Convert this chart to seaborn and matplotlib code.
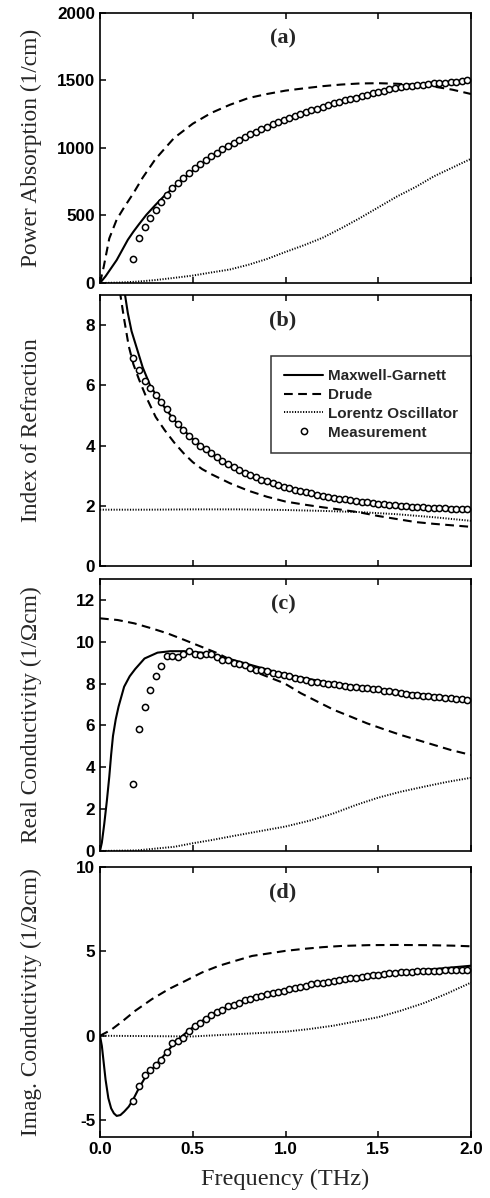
import matplotlib
matplotlib.use("Agg")
import matplotlib.pyplot as plt
from matplotlib.lines import Line2D
import seaborn as sns

sns.set_style("ticks")
plt.rcParams['font.family'] = ['Liberation Sans', 'DejaVu Sans']

# ---------------- data ----------------
meas_freq = [0.18, 0.21, 0.24, 0.27, 0.30, 0.33, 0.36, 0.39, 0.42, 0.45,
             0.48, 0.51, 0.54, 0.57, 0.60, 0.63, 0.66, 0.69, 0.72, 0.75,
             0.78, 0.81, 0.84, 0.87, 0.90, 0.93, 0.96, 0.99, 1.02, 1.05,
             1.08, 1.11, 1.14, 1.17, 1.20, 1.23, 1.26, 1.29, 1.32, 1.35,
             1.38, 1.41, 1.44, 1.47, 1.50, 1.53, 1.56, 1.59, 1.62, 1.65,
             1.68, 1.71, 1.74, 1.77, 1.80, 1.83, 1.86, 1.89, 1.92, 1.95,
             1.98]

meas_absorption = [176, 330, 415, 480, 540, 598, 655, 700, 740, 775,
                   815, 850, 880, 910, 940, 965, 990, 1015, 1040, 1060,
                   1080, 1100, 1120, 1140, 1158, 1175, 1192, 1208, 1222, 1238,
                   1255, 1268, 1280, 1292, 1305, 1318, 1330, 1342, 1352, 1362,
                   1372, 1385, 1395, 1405, 1415, 1425, 1438, 1448, 1452, 1458,
                   1462, 1465, 1468, 1472, 1478, 1482, 1485, 1488, 1492, 1498,
                   1505]
meas_index = [6.9, 6.5, 6.15, 5.9, 5.68, 5.45, 5.2, 4.93, 4.72, 4.52,
              4.32, 4.15, 4.0, 3.87, 3.74, 3.61, 3.49, 3.38, 3.28, 3.19,
              3.10, 3.02, 2.94, 2.87, 2.81, 2.75, 2.70, 2.64, 2.59, 2.54,
              2.49, 2.45, 2.41, 2.37, 2.33, 2.30, 2.27, 2.24, 2.21, 2.19,
              2.16, 2.13, 2.11, 2.09, 2.07, 2.05, 2.03, 2.01, 1.99, 1.98,
              1.97, 1.96, 1.95, 1.94, 1.93, 1.92, 1.91, 1.90, 1.90, 1.89,
              1.88]
meas_real = [3.2, 5.85, 6.9, 7.7, 8.35, 8.85, 9.3, 9.3, 9.25, 9.4,
             9.55, 9.4, 9.35, 9.4, 9.42, 9.27, 9.13, 9.15, 9.0, 8.92,
             8.9, 8.75, 8.67, 8.63, 8.58, 8.52, 8.45, 8.40, 8.35, 8.28,
             8.22, 8.16, 8.10, 8.06, 8.03, 8.00, 7.97, 7.93, 7.90, 7.86,
             7.83, 7.80, 7.78, 7.75, 7.72, 7.67, 7.63, 7.58, 7.54, 7.50,
             7.47, 7.44, 7.42, 7.40, 7.38, 7.35, 7.33, 7.30, 7.27, 7.25,
             7.22]
meas_imag = [-3.85, -3.0, -2.3, -2.0, -1.75, -1.45, -0.95, -0.45, -0.33, -0.15,
             0.30, 0.58, 0.75, 1.0, 1.25, 1.42, 1.52, 1.78, 1.85, 1.95,
             2.1, 2.2, 2.3, 2.35, 2.48, 2.56, 2.62, 2.68, 2.77, 2.84,
             2.90, 2.97, 3.04, 3.10, 3.15, 3.20, 3.25, 3.30, 3.36, 3.41,
             3.45, 3.50, 3.55, 3.58, 3.62, 3.65, 3.69, 3.72, 3.75, 3.77,
             3.79, 3.81, 3.83, 3.84, 3.85, 3.86, 3.88, 3.89, 3.90, 3.90,
             3.91]

# (a) power absorption models
mg_a_f = [0, 0.03, 0.06, 0.09, 0.12, 0.15, 0.18, 0.21, 0.25, 0.30, 0.35, 0.40,
          0.50, 0.60, 0.70, 0.80, 0.90, 1.00, 1.10, 1.20, 1.30, 1.40, 1.50,
          1.60, 1.70, 1.80, 1.90, 2.00]
mg_a_v = [0, 50, 110, 170, 245, 320, 380, 435, 505, 580, 650, 712,
          830, 935, 1025, 1095, 1155, 1210, 1260, 1305, 1345, 1385, 1415,
          1445, 1465, 1480, 1492, 1505]
dr_a_f = [0, 0.02, 0.05, 0.09, 0.13, 0.18, 0.23, 0.30, 0.40, 0.50, 0.60, 0.70,
          0.80, 0.90, 1.00, 1.10, 1.20, 1.30, 1.40, 1.50, 1.60, 1.70, 1.80,
          1.90, 2.00]
dr_a_v = [0, 120, 330, 470, 560, 665, 780, 920, 1075, 1180, 1260, 1320,
          1370, 1400, 1425, 1442, 1458, 1470, 1478, 1480, 1476, 1468, 1455,
          1432, 1400]
lo_a_f = [0, 0.1, 0.2, 0.3, 0.4, 0.5, 0.6, 0.7, 0.8, 0.9, 1.0, 1.1, 1.2, 1.3,
          1.4, 1.5, 1.6, 1.7, 1.8, 1.9, 2.0]
lo_a_v = [0, 3, 10, 22, 38, 55, 78, 100, 135, 178, 230, 280, 335, 405,
          480, 560, 640, 710, 790, 855, 920]

# (b) index of refraction models
mg_b_f = [0.125, 0.135, 0.15, 0.17, 0.20, 0.23, 0.27, 0.30, 0.35, 0.40, 0.45,
          0.50, 0.60, 0.70, 0.80, 0.90, 1.00, 1.20, 1.40, 1.60, 1.80, 2.00]
mg_b_v = [9.5, 9.0, 8.4, 7.8, 7.2, 6.6, 6.0, 5.7, 5.25, 4.85, 4.52,
          4.22, 3.74, 3.35, 3.06, 2.81, 2.62, 2.33, 2.13, 2.0, 1.93, 1.88]
dr_b_f = [0.10, 0.11, 0.13, 0.155, 0.18, 0.21, 0.25, 0.30, 0.35, 0.40, 0.45,
          0.50, 0.55, 0.60, 0.70, 0.80, 0.90, 1.00, 1.10, 1.20, 1.30, 1.40,
          1.50, 1.60, 1.70, 1.80, 1.90, 2.00]
dr_b_v = [9.6, 9.0, 8.2, 7.3, 6.7, 6.2, 5.6, 4.95, 4.5, 4.1, 3.75,
          3.45, 3.22, 3.05, 2.75, 2.5, 2.3, 2.14, 2.04, 1.95, 1.87, 1.78,
          1.66, 1.56, 1.46, 1.40, 1.35, 1.30]
lo_b_f = [0, 0.25, 0.5, 0.75, 1.0, 1.2, 1.4, 1.6, 1.8, 2.0]
lo_b_v = [1.87, 1.87, 1.88, 1.88, 1.86, 1.83, 1.79, 1.72, 1.62, 1.50]

# (c) real conductivity models
mg_c_f = [0, 0.01, 0.023, 0.037, 0.05, 0.06, 0.07, 0.085, 0.10, 0.13, 0.16,
          0.19, 0.24, 0.31, 0.38, 0.45, 0.55, 0.65, 0.75, 0.85, 0.95, 1.05,
          1.2, 1.4, 1.6, 1.8, 2.0]
mg_c_v = [0, 0.4, 1.3, 2.4, 3.55, 4.6, 5.5, 6.3, 6.9, 7.85, 8.35,
          8.7, 9.2, 9.48, 9.55, 9.55, 9.48, 9.3, 9.05, 8.8, 8.55, 8.35,
          8.1, 7.85, 7.62, 7.42, 7.25]
dr_c_f = [0, 0.095, 0.185, 0.275, 0.364, 0.454, 0.544, 0.634, 0.723, 0.813,
          0.903, 0.993, 1.083, 1.172, 1.262, 1.352, 1.44, 1.53, 1.62, 1.71,
          1.80, 1.89, 2.0]
dr_c_v = [11.12, 11.04, 10.88, 10.65, 10.4, 10.09, 9.77, 9.45, 9.05, 8.65,
          8.33, 8.02, 7.54, 7.14, 6.74, 6.42, 6.10, 5.82, 5.55, 5.31,
          5.07, 4.83, 4.59]
lo_c_f = [0, 0.2, 0.4, 0.5, 0.6, 0.72, 0.85, 1.0, 1.13, 1.26, 1.38, 1.5,
          1.62, 1.75, 1.87, 2.0]
lo_c_v = [0, 0.03, 0.2, 0.37, 0.52, 0.72, 0.93, 1.17, 1.45, 1.8, 2.2, 2.55,
          2.83, 3.08, 3.3, 3.5]

# (d) imaginary conductivity models
mg_d_f = [0, 0.01, 0.02, 0.03, 0.045, 0.06, 0.075, 0.09, 0.11, 0.13, 0.155,
          0.18, 0.21, 0.25, 0.30, 0.35, 0.40, 0.45, 0.50, 0.60, 0.70, 0.80,
          0.90, 1.0, 1.2, 1.4, 1.6, 1.8, 2.0]
mg_d_v = [0, -0.6, -1.6, -2.6, -3.7, -4.3, -4.6, -4.75, -4.7, -4.5, -4.2,
          -3.75, -3.1, -2.35, -1.75, -1.1, -0.45, 0.05, 0.5, 1.25, 1.78, 2.2,
          2.5, 2.72, 3.15, 3.5, 3.78, 3.95, 4.15]
dr_d_f = [0, 0.06, 0.12, 0.19, 0.28, 0.37, 0.46, 0.55, 0.64, 0.73, 0.82, 0.91,
          1.0, 1.1, 1.2, 1.3, 1.45, 1.6, 1.75, 1.9, 2.0]
dr_d_v = [0, 0.35, 0.85, 1.48, 2.17, 2.76, 3.25, 3.75, 4.14, 4.44, 4.73, 4.88,
          5.03, 5.15, 5.25, 5.32, 5.37, 5.38, 5.37, 5.34, 5.30]
lo_d_f = [0, 0.25, 0.5, 0.75, 1.0, 1.13, 1.26, 1.38, 1.5, 1.62, 1.75, 1.87, 2.0]
lo_d_v = [0, -0.02, -0.04, 0.1, 0.24, 0.4, 0.6, 0.85, 1.1, 1.48, 1.95, 2.5, 3.15]

panel_tags = ["(a)", "(b)", "(c)", "(d)"]
y_labels = ["Power Absorption (1/cm)", "Index of Refraction",
            "Real Conductivity (1/\u03a9cm)", "Imag. Conductivity (1/\u03a9cm)"]
y_limits = [(0, 2000), (0, 9), (0, 13), (-6, 10)]
y_ticks = [[0, 500, 1000, 1500, 2000], [0, 2, 4, 6, 8],
           [0, 2, 4, 6, 8, 10, 12], [-5, 0, 5, 10]]
x_ticks = [0.0, 0.5, 1.0, 1.5, 2.0]
x_tick_labels = ["0.0", "0.5", "1.0", "1.5", "2.0"]
legend_labels = ["Maxwell-Garnett", "Drude", "Lorentz Oscillator", "Measurement"]

panels = [
    (mg_a_f, mg_a_v, dr_a_f, dr_a_v, lo_a_f, lo_a_v, meas_absorption),
    (mg_b_f, mg_b_v, dr_b_f, dr_b_v, lo_b_f, lo_b_v, meas_index),
    (mg_c_f, mg_c_v, dr_c_f, dr_c_v, lo_c_f, lo_c_v, meas_real),
    (mg_d_f, mg_d_v, dr_d_f, dr_d_v, lo_d_f, lo_d_v, meas_imag),
]

# ---------------- figure ----------------
W, H = 490, 1198
fig = plt.figure(figsize=(W / 100, H / 100), dpi=100)
fig.patch.set_facecolor("white")

left_px, right_px = 100, 471
rows_px = [(13, 283), (295, 566), (579, 851), (867, 1137)]

serif = ['Liberation Serif', 'DejaVu Serif']
sans = ['Liberation Sans', 'DejaVu Sans']
tick_font = dict(family=sans, weight='bold', size=12.3)

DASH = (0, (4.2, 2.6))
DOT = (0, (0.6, 0.8))

for i, (top, bot) in enumerate(rows_px):
    ax = fig.add_axes([left_px / W, 1 - bot / H, (right_px - left_px) / W, (bot - top) / H])
    mgf, mgv, drf, drv, lof, lov, meas = panels[i]
    sns.lineplot(x=lof, y=lov, ax=ax, color='black', lw=1.4, linestyle=DOT,
                 estimator=None, sort=False)
    sns.lineplot(x=drf, y=drv, ax=ax, color='black', lw=1.5, linestyle=DASH,
                 estimator=None, sort=False)
    sns.lineplot(x=mgf, y=mgv, ax=ax, color='black', lw=1.5, linestyle='-',
                 estimator=None, sort=False)
    sns.scatterplot(x=meas_freq, y=meas, ax=ax, marker='o', s=20,
                    facecolor='white', edgecolor='black', linewidth=1.1, zorder=3)

    ax.set_xlim(0, 2.0)
    ax.set_ylim(*y_limits[i])
    ax.set_xticks(x_ticks)
    ax.set_yticks(y_ticks[i])
    ax.set_yticklabels([str(t) for t in y_ticks[i]], fontdict=tick_font)
    if i == 3:
        ax.set_xticklabels(x_tick_labels, fontdict=tick_font)
        ax.set_xlabel("Frequency (THz)", family=serif, size=17.5)
        ax.xaxis.set_label_coords(0.5, -0.118)
    else:
        ax.set_xticklabels([])
        ax.set_xlabel("")
    ax.set_ylabel(y_labels[i], family=serif, size=16.8)
    ax.yaxis.set_label_coords(-0.155, 0.5)
    ax.tick_params(direction='in', top=True, right=False, length=4, width=1.1,
                   pad=3.5, colors='black')
    for sp in ax.spines.values():
        sp.set_linewidth(1.2)
        sp.set_color('black')
    ax.text(0.493, 0.905, panel_tags[i], transform=ax.transAxes, ha='center',
            va='center', family=serif, weight='bold', size=16)

    if i == 1:
        handles = [
            Line2D([], [], color='black', lw=1.5, linestyle='-'),
            Line2D([], [], color='black', lw=1.5, linestyle=DASH),
            Line2D([], [], color='black', lw=1.4, linestyle=DOT),
            Line2D([], [], color='black', lw=0, marker='o', markersize=4.5,
                   markerfacecolor='white', markeredgecolor='black', markeredgewidth=1.1),
        ]
        leg = ax.legend(handles, legend_labels, loc='upper right',
                        bbox_to_anchor=(1.0, 0.775), borderaxespad=0,
                        frameon=True, fancybox=False, edgecolor='black',
                        prop=dict(family=sans, weight='bold', size=11),
                        handlelength=2.6, handletextpad=0.3, labelspacing=0.32,
                        borderpad=0.85)
        leg.get_frame().set_linewidth(1.1)
    else:
        if ax.get_legend() is not None:
            ax.get_legend().remove()

fig.savefig("out.png", dpi=100, facecolor="white")
